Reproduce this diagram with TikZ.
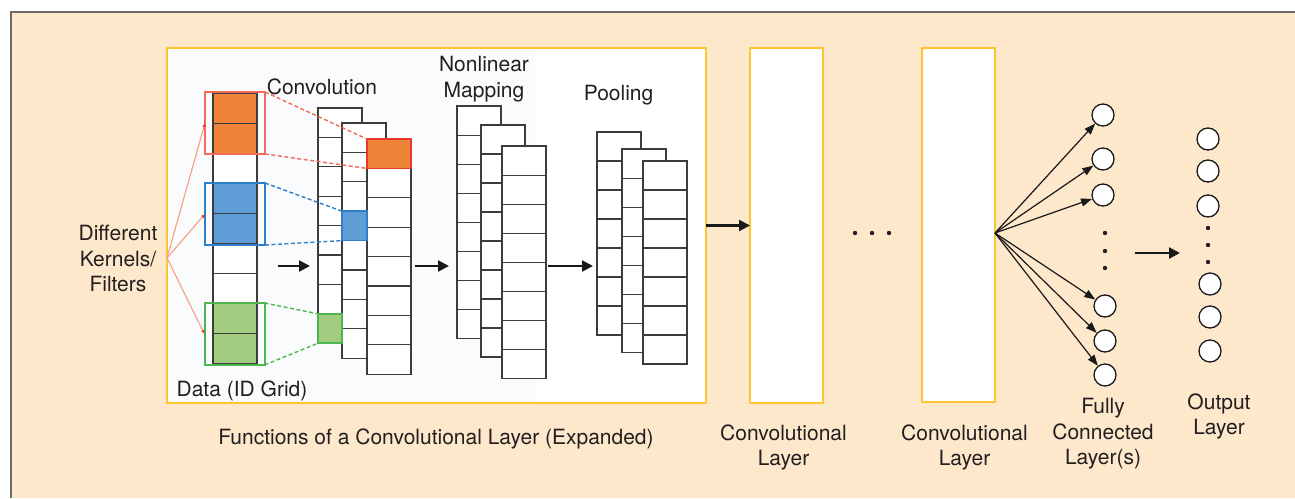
\documentclass[tikz,border=0pt]{standalone}
\usepackage{fontspec}
\setmainfont{TeX Gyre Heros}
\usetikzlibrary{arrows.meta}

\definecolor{bgbeige}{HTML}{FDE8CC}
\definecolor{framegray}{HTML}{6E6A66}
\definecolor{layeryellow}{HTML}{FDC530}
\definecolor{panelgray}{HTML}{FAFBFD}
\definecolor{inkgray}{HTML}{231F20}
\definecolor{cellgray}{HTML}{3C3C3C}
\definecolor{korange}{HTML}{EE8439}
\definecolor{kred}{HTML}{F26A5A}
\definecolor{tipred}{HTML}{E8382A}
\definecolor{kblue}{HTML}{5F9DD6}
\definecolor{kblueline}{HTML}{2F7FCB}
\definecolor{kgreen}{HTML}{A2CC80}
\definecolor{kgreenline}{HTML}{4DB74E}
\definecolor{fanred}{HTML}{F6A38C}

\begin{document}
\begin{tikzpicture}[x=1pt,y=-1pt,
  font=\fontsize{21}{25.5}\selectfont, text=inkgray,
  lbl/.style={align=center, inner sep=0pt},
  panel/.style={draw=layeryellow, line width=2.5pt, fill=white, inner sep=0pt, outer sep=0pt},
  cellline/.style={draw=cellgray, line width=1.2pt, fill=white},
  kernel/.style={line width=2pt, minimum width=60pt, minimum height=62pt, inner sep=0pt, outer sep=0pt},
  outcell/.style={line width=1.5pt, minimum height=29.4pt, inner sep=0pt, outer sep=0pt},
  proj/.style={line width=1.4pt, dash pattern=on 4pt off 2.5pt},
  kfan/.style={draw=fanred, line width=1.2pt, -{Latex[length=4pt,width=3.5pt,color=tipred]}},
  flow/.style={draw=black!90, line width=2.2pt, -{Triangle[length=11pt,width=11pt]}},
  fanline/.style={draw=black!90, line width=1.2pt, -{Triangle[length=11pt,width=8pt]}},
  neuron/.style={circle, draw=black!90, line width=1.3pt, fill=white, minimum size=22pt, inner sep=0pt}]
\useasboundingbox (0,0) rectangle (1295,498);

% background and frame
\fill[bgbeige] (11,12) rectangle (1295,498);
\draw[framegray, line width=2pt] (11,498) -- (11,12) -- (1295,12);

% expanded convolutional layer
\node[panel, minimum width=539pt, minimum height=355pt] (fexp) at (436.5,225.5) {};
\fill[panelgray] (168.3,49.3) rectangle (535,401.7);

% data grid
\foreach \k in {0,...,8}
  \draw[cellline] (213,93+\k*30.1) rectangle ++(44,30.1);
\foreach \k/\c in {0/korange,1/korange,3/kblue,4/kblue,7/kgreen,8/kgreen}
  \draw[cellline, fill=\c] (213,93+\k*30.1) rectangle ++(44,30.1);

% feature maps: convolution, nonlinear mapping, pooling
\foreach \cx/\cy/\kk/\ch in {318/108/7/29.4, 342/123/7/29.4, 367/139/7/29.4,
                             457/106/7/29.1, 481/125/7/29.0, 502/146/7/29.1,
                             597/132/6/29.0, 622/149/6/29.1, 643/161/6/29.0}
  \foreach \k in {0,...,\kk}
    \draw[cellline] (\cx,\cy+\k*\ch) rectangle ++(44,\ch);

% kernel outputs
\node[outcell, fill=korange, draw=tipred, minimum width=44pt] (outA) at (389,153.7) {};
\node[outcell, fill=kblue, draw=kblueline, minimum width=25pt] (outB) at (354.5,225.9) {};
\node[outcell, fill=kgreen, draw=kgreenline, minimum width=24pt] (outC) at (330,328.5) {};

% kernels
\node[kernel, draw=kred] (kerA) at (235,123) {};
\node[kernel, draw=kblueline] (kerB) at (235,214) {};
\node[kernel, draw=kgreenline] (kerC) at (234.5,334) {};

\draw[proj, kred] (kerA.north east) -- (outA.north west)
                  (kerA.south east) -- (outA.south west);
\draw[proj, kblueline] (kerB.north east) -- (outB.north west)
                       (kerB.south east) -- (outB.south west);
\draw[proj, kgreenline] (kerC.north east) -- (outC.north west)
                        (kerC.south east) -- (outC.south west);

\coordinate (kfanpt) at (167,258);
\foreach \k in {kerA,kerB,kerC}
  \draw[kfan] (kfanpt) -- (\k.west);

% labels inside the panel
\node[lbl] (kernlbl) at (118,258.5) {Different\\Kernels/\\Filters};
\node[lbl] (convlbl) at (322,86.4) {Convolution};
\node[lbl] (nonlbl) at (484,79) {Nonlinear\\Mapping};
\node[lbl] (poollbl) at (618.5,95.5) {Pooling};
\node[lbl] (datalbl) at (242,390.5) {Data (ID Grid)};
\node[lbl] (funclbl) at (436,438.5) {Functions of a Convolutional Layer (Expanded)};

% arrows between stages
\coordinate (dataout) at (278,266);  \coordinate (convin) at (310,266);
\coordinate (convout) at (415,266);  \coordinate (nonin) at (449,266);
\coordinate (nonout) at (548,266);   \coordinate (poolin) at (593,266);
\draw[flow] (dataout) -- (convin);
\draw[flow] (convout) -- (nonin);
\draw[flow] (nonout) -- (poolin);

% further convolutional layers
\node[panel, minimum width=73pt, minimum height=355pt] (layerA) at (786.5,225.5) {};
\node[panel, minimum width=73pt, minimum height=354pt] (layerB) at (958.5,225) {};
\draw[flow] (fexp.east) -- (layerA.west);
\foreach \x in {855,872,889}
  \fill[inkgray] (\x,233) circle (2.2pt);
\node[lbl] (layAlbl) at (783.5,447.5) {Convolutional\\Layer};
\node[lbl] (layBlbl) at (964.5,447.5) {Convolutional\\Layer};

% fully connected layer
\foreach \n/\x/\y in {1/1103/115, 2/1103/159, 3/1103/195, 4/1105/306, 5/1105/341, 6/1105/375}
  \node[neuron] (fc\n) at (\x,\y) {};
\foreach \y in {233,251,268}
  \fill[inkgray] (1105,\y) circle (2.2pt);
\coordinate (fanpt) at (995,233);
\foreach \n in {1,...,6}
  \draw[fanline] (fanpt) -- (fc\n);
\node[lbl] (fclbl) at (1103,434) {Fully\\Connected\\Layer(s)};

% output layer
\foreach \n/\x/\y in {1/1208/139, 2/1208/171, 3/1208/206, 4/1210/284, 5/1210/317, 6/1210/351}
  \node[neuron] (op\n) at (\x,\y) {};
\foreach \y in {228,245,262}
  \fill[inkgray] (1208,\y) circle (2.2pt);
\coordinate (fcout) at (1135,253);  \coordinate (opin) at (1180,253);
\draw[flow] (fcout) -- (opin);
\node[lbl] (oplbl) at (1219,416.5) {Output\\Layer};
\end{tikzpicture}
\end{document}
